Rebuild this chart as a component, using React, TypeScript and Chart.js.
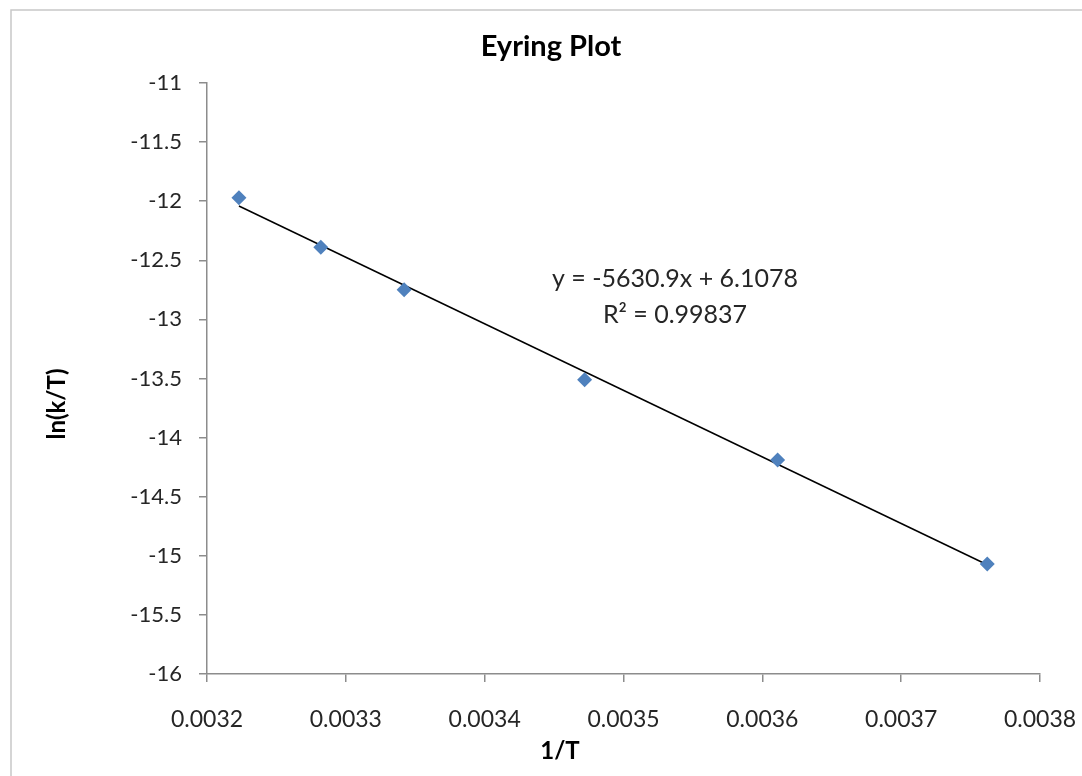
import React, { useEffect, useRef } from "react";
import { Chart, registerables } from "chart.js";

Chart.register(...registerables);

// Data
const invT = [0.003223, 0.003282, 0.003342, 0.003472, 0.003611, 0.003762];
const lnKT = [-11.97, -12.39, -12.75, -13.51, -14.19, -15.07];

// Linear trendline endpoints (y = -5630.9x + 6.1078)
const trendX = [0.003223, 0.003762];
const trendY = [-12.041, -15.076];

const xTickValues = [0.0032, 0.0033, 0.0034, 0.0035, 0.0036, 0.0037, 0.0038];
const xTickLabels = ["0.0032", "0.0033", "0.0034", "0.0035", "0.0036", "0.0037", "0.0038"];
const yTickValues = [-11, -11.5, -12, -12.5, -13, -13.5, -14, -14.5, -15, -15.5, -16];
const yTickLabels = ["-11", "-11.5", "-12", "-12.5", "-13", "-13.5", "-14", "-14.5", "-15", "-15.5", "-16"];

const titleText = "Eyring Plot";
const xTitle = "1/T";
const yTitle = "ln(k/T)";
const eqLine1 = "y = -5630.9x + 6.1078";
const eqLine2 = "R\u00B2 = 0.99837";

const FONT = "Lato, Calibri, 'Open Sans', sans-serif";

const textPlugin = {
  id: "excelText",
  beforeDraw(chart: any) {
    const ctx = chart.ctx;
    ctx.save();
    ctx.fillStyle = "#ffffff";
    ctx.fillRect(0, 0, chart.width, chart.height);
    ctx.strokeStyle = "#c8c8c8";
    ctx.lineWidth = 1.5;
    ctx.beginPath();
    ctx.moveTo(11, chart.height);
    ctx.lineTo(11, 10);
    ctx.lineTo(chart.width, 10);
    ctx.stroke();
    ctx.restore();
  },
  afterDraw(chart: any) {
    const ctx = chart.ctx;
    ctx.save();
    ctx.fillStyle = "#000000";
    ctx.textAlign = "center";
    ctx.textBaseline = "middle";
    ctx.font = `bold 29px ${FONT}`;
    ctx.fillText(titleText, 551, 47);

    ctx.font = `bold 24px ${FONT}`;
    ctx.fillText(xTitle, 560, 751);

    ctx.save();
    ctx.translate(57, 404);
    ctx.rotate(-Math.PI / 2);
    ctx.fillText(yTitle, 0, 0);
    ctx.restore();

    ctx.fillStyle = "#262626";
    ctx.font = `25px ${FONT}`;
    ctx.fillText(eqLine1, 675, 279);
    ctx.fillText(eqLine2, 675, 315);
    ctx.restore();
  },
};

export default function App() {
  const ref = useRef<HTMLCanvasElement | null>(null);

  useEffect(() => {
    if (!ref.current) return;
    const chart = new Chart(ref.current, {
      type: "scatter",
      data: {
        datasets: [
          {
            label: "Trendline",
            data: trendX.map((x, i) => ({ x, y: trendY[i] })),
            showLine: true,
            borderColor: "#000000",
            borderWidth: 1.5,
            pointRadius: 0,
            fill: false,
            order: 2,
          },
          {
            label: "ln(k/T)",
            data: invT.map((x, i) => ({ x, y: lnKT[i] })),
            pointStyle: "rectRot",
            pointRadius: 7.5,
            backgroundColor: "#4F81BD",
            borderColor: "#4F81BD",
            borderWidth: 0,
            order: 1,
          },
        ],
      },
      options: {
        responsive: false,
        animation: false,
        events: [],
        layout: { padding: { left: 0, top: 83, right: 42, bottom: 0 } },
        plugins: {
          legend: { display: false },
          title: { display: false },
          tooltip: { enabled: false },
        },
        scales: {
          x: {
            type: "linear",
            min: 0.0032,
            max: 0.0038,
            afterBuildTicks: (scale: any) => {
              scale.ticks = xTickValues.map((v) => ({ value: v }));
            },
            afterFit: (scale: any) => {
              scale.height = 102;
              scale.paddingLeft = 0;
              scale.paddingRight = 0;
            },
            ticks: {
              autoSkip: false,
              maxRotation: 0,
              padding: 24,
              color: "#262626",
              font: { family: FONT, size: 23 },
              callback: (_v: any, i: number) => xTickLabels[i],
            },
            grid: {
              display: true,
              drawOnChartArea: false,
              drawTicks: true,
              tickLength: 8,
              color: "#8c8c8c",
              lineWidth: 1.5,
            },
            border: { display: true, color: "#8c8c8c", width: 1.5 },
          },
          y: {
            type: "linear",
            min: -16,
            max: -11,
            afterBuildTicks: (scale: any) => {
              scale.ticks = yTickValues.slice().reverse().map((v) => ({ value: v }));
            },
            afterFit: (scale: any) => {
              scale.width = 207;
              scale.paddingTop = 0;
              scale.paddingBottom = 0;
            },
            ticks: {
              autoSkip: false,
              padding: 17,
              color: "#262626",
              font: { family: FONT, size: 22 },
              callback: (v: any) => {
                const idx = yTickValues.findIndex((t) => Math.abs(t - v) < 1e-9);
                return idx >= 0 ? yTickLabels[idx] : "";
              },
            },
            grid: {
              display: true,
              drawOnChartArea: false,
              drawTicks: true,
              tickLength: 8,
              color: "#8c8c8c",
              lineWidth: 1.5,
            },
            border: { display: true, color: "#8c8c8c", width: 1.5 },
          },
        },
      },
      plugins: [textPlugin],
    });
    return () => chart.destroy();
  }, []);

  return (
    <div style={{ position: "absolute", left: 0, top: 0, width: 1082, height: 776, overflow: "hidden", background: "#fff" }}>
      <canvas ref={ref} width={1082} height={776} style={{ width: 1082, height: 776, display: "block" }} />
    </div>
  );
}
